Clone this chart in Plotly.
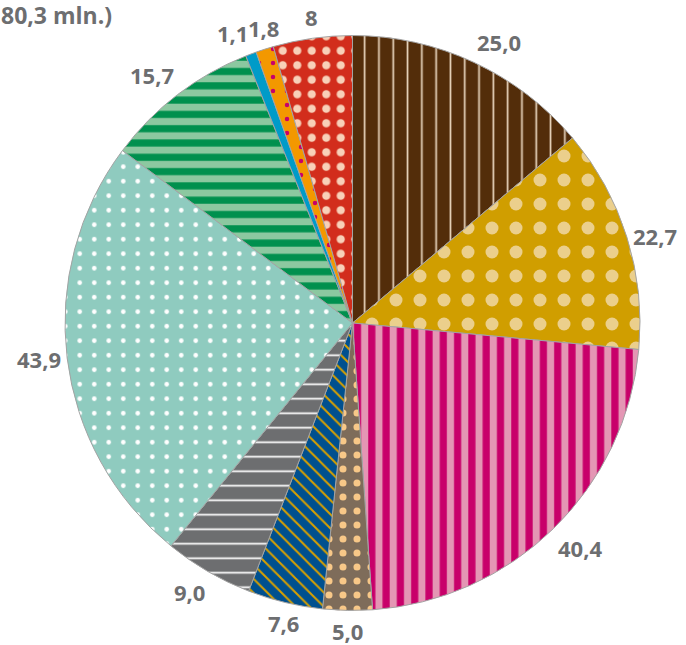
import math
import plotly.graph_objects as go

labels = ["A", "B", "C", "D", "E", "F", "G", "H", "I", "J", "K"]
values = [25.0, 22.7, 40.4, 5.0, 7.6, 9.0, 43.9, 15.7, 1.1, 1.8, 8.0]
value_text = ["25,0", "22,7", "40,4", "5,0", "7,6", "9,0", "43,9", "15,7", "1,1", "1,8", "8"]
title_text = "80,3 mln.)"

bg_colors = ["#532d0a", "#d09e00", "#c8006a", "#7e6c5a", "#00508f", "#6d6e70",
             "#8fcbbf", "#00904e", "#009bc8", "#f39800", "#d22d1c"]
fg_colors = ["#e8d4bc", "#ebcf8c", "#e496b4", "#f8c888", "#d8a000", "#ffffff",
             "#ffffff", "#8cc8a0", "#009bc8", "#c8006a", "#f8d0b8"]
shapes = ["|", ".", "|", ".", "\\", "-", ".", "-", "", ".", "."]
sizes = [14.3, 24, 14.3, 14, 10, 14.5, 14.5, 14.3, 10, 14, 14.5]
solidity = [0.12, 0.23, 0.5, 0.2, 0.2, 0.12, 0.08, 0.5, 0.2, 0.08, 0.25]

W, H = 686, 645
CX, CY, R = 352.5, 323.0, 287.5

fig = go.Figure(go.Pie(
    labels=labels,
    values=values,
    textinfo="none",
    sort=False,
    direction="clockwise",
    rotation=0,
    showlegend=False,
    hoverinfo="skip",
    marker=dict(
        colors=bg_colors,
        line=dict(color="#a3a3a3", width=1),
        pattern=dict(shape=shapes, fgcolor=fg_colors, bgcolor=bg_colors,
                     size=sizes, solidity=solidity, fillmode="replace"),
    ),
    domain=dict(x=[(CX - R) / W, (CX + R) / W], y=[1 - (CY + R) / H, 1 - (CY - R) / H]),
))

# outside-end labels at each slice's mid-angle
total = sum(values)
cum = 0.0
label_font = dict(family="Open Sans", size=22, color="#6d6e70", weight="bold")
for v, t in zip(values, value_text):
    theta = math.radians((cum + v / 2) / total * 360)
    cum += v
    s, c = math.sin(theta), math.cos(theta)
    d = R + 5
    px = CX + d * s
    py = CY - d * c
    xa = "left" if s > 0.34 else ("right" if s < -0.34 else "center")
    ya = "bottom" if c > 0.35 else ("top" if c < -0.35 else "middle")
    fig.add_annotation(text=t, xref="paper", yref="paper", x=px / W, y=1 - py / H,
                       xanchor=xa, yanchor=ya, showarrow=False, font=label_font,
                       borderpad=0)

fig.add_annotation(
    text=title_text, xref="paper", yref="paper",
    x=0, y=1.0, xanchor="left", yanchor="top",
    showarrow=False, borderpad=0,
    font=dict(family="Open Sans", size=23, color="#6d6e70", weight="bold"),
    yshift=2, xshift=0,
)

fig.update_layout(
    width=W, height=H,
    margin=dict(l=0, r=0, t=0, b=0),
    paper_bgcolor="white", plot_bgcolor="white",
)

fig.write_html("out.html")
